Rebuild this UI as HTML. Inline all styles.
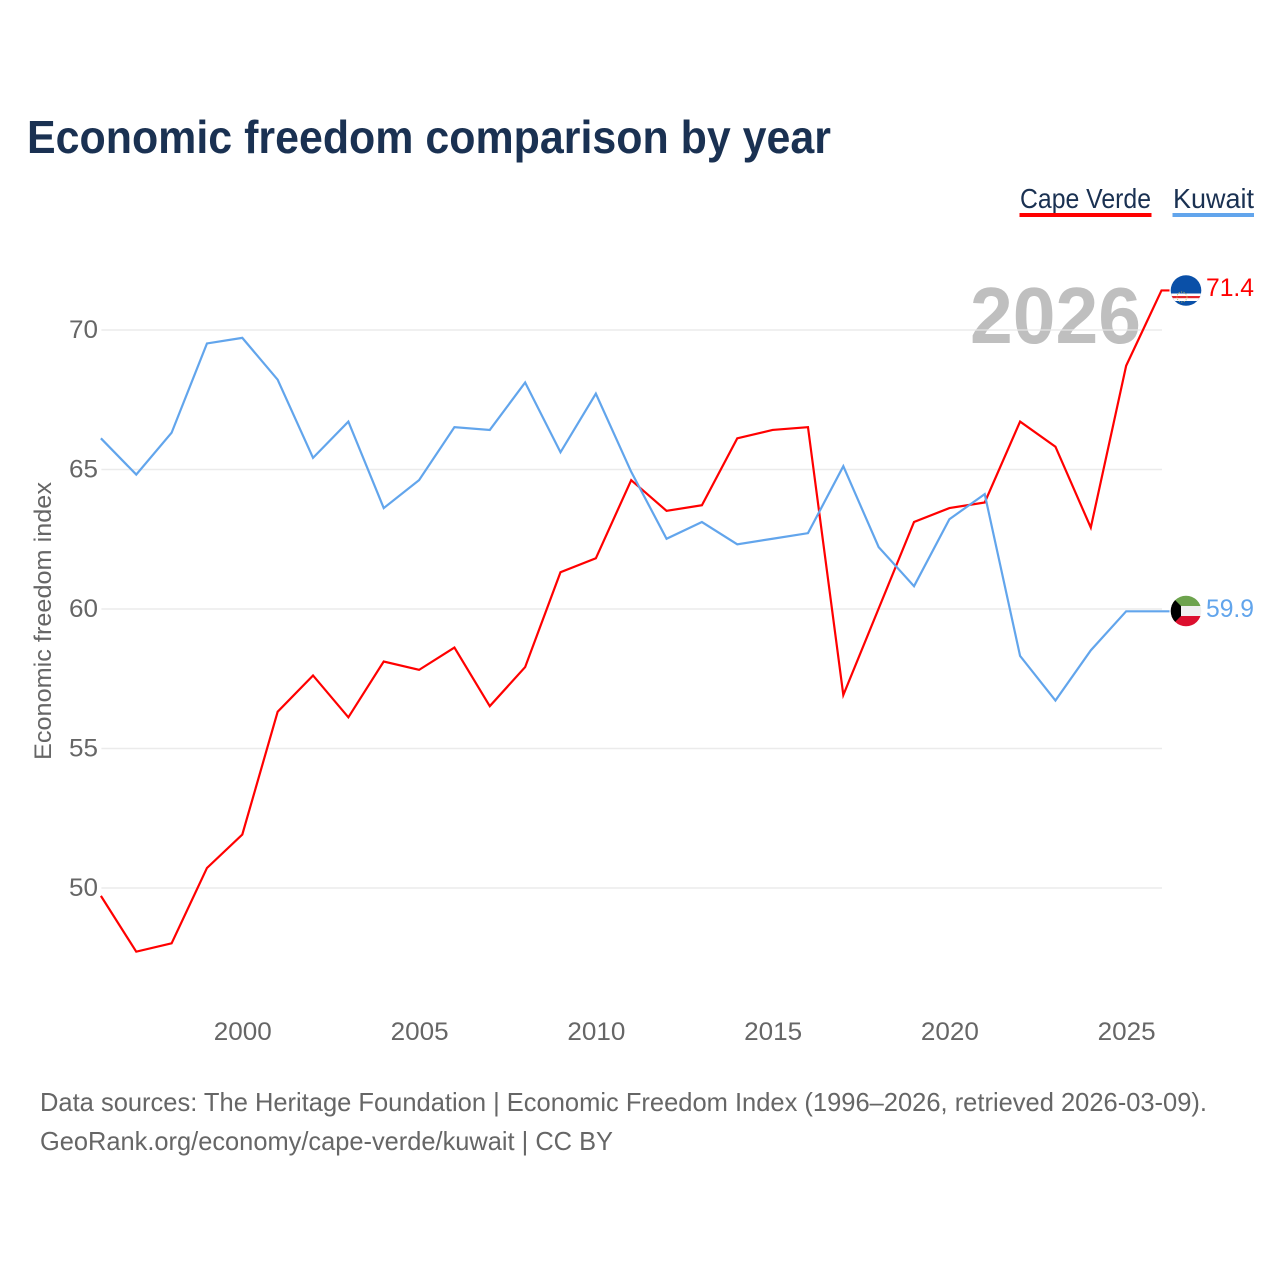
<!DOCTYPE html>
<html lang="en">
<head>
<meta charset="utf-8">
<title>Economic freedom comparison by year</title>
<style>
html,body{margin:0;padding:0;background:#fff;}
svg{display:block;}
text{font-family:"Liberation Sans",sans-serif;}
</style>
</head>
<body>
<svg id="chart" xmlns="http://www.w3.org/2000/svg" width="1280" height="1280" viewBox="0 0 1280 1280">
  <defs>
    <clipPath id="cv-clip"><circle cx="1186" cy="290.5" r="15.3"></circle></clipPath>
    <clipPath id="kw-clip"><circle cx="1186" cy="611" r="15.3"></circle></clipPath>
  </defs>
  <rect width="1280" height="1280" fill="#ffffff"></rect>
  <text x="27" y="153" font-size="46" font-weight="700" fill="#1a3152" textLength="804" lengthAdjust="spacingAndGlyphs">Economic freedom comparison by year</text>

  <text x="1020" y="208" font-size="28" fill="#1a3152" textLength="131" lengthAdjust="spacingAndGlyphs">Cape Verde</text>
  <rect x="1019.5" y="213" width="132" height="4" fill="#ff0000"></rect>
  <text x="1173" y="208" font-size="28" fill="#1a3152" textLength="81" lengthAdjust="spacingAndGlyphs">Kuwait</text>
  <rect x="1172.5" y="213" width="81.5" height="4" fill="#62a5ec"></rect>

  <text x="970" y="343" font-size="80" font-weight="700" fill="#bfbfbf" textLength="171" lengthAdjust="spacingAndGlyphs">2026</text>

  <g id="grid"></g>
  <g id="y-ticks"></g>
  <g id="x-ticks"></g>

  <text transform="translate(51,621) rotate(-90)" text-anchor="middle" font-size="24" fill="#666666" textLength="278" lengthAdjust="spacingAndGlyphs">Economic freedom index</text>

  <g id="series" transform="translate(-0.5,-0.5)"></g>

  <g id="flag-cape-verde" clip-path="url(#cv-clip)">
    <rect x="1170" y="275" width="32" height="32" fill="#0a50a8"></rect>
    <rect x="1170" y="293.5" width="32" height="7.5" fill="#ffffff"></rect>
    <rect x="1170" y="296" width="32" height="2.2" fill="#e2262c"></rect>
    <circle cx="1182" cy="297" r="5" fill="none" stroke="#c9b95a" stroke-width="1" stroke-dasharray="1 1.5"></circle>
  </g>
  <g id="flag-kuwait" clip-path="url(#kw-clip)">
    <rect x="1170" y="595" width="32" height="11" fill="#6da34d"></rect>
    <rect x="1170" y="606" width="32" height="10" fill="#f0f0f0"></rect>
    <rect x="1170" y="616" width="32" height="11" fill="#dc0f2e"></rect>
    <polygon points="1170,595 1181,606 1181,616 1170,627" fill="#000000"></polygon>
  </g>

  <text id="value-cape-verde" x="1206" y="296" font-size="25" fill="#ff0000" textLength="48" lengthAdjust="spacingAndGlyphs"></text>
  <text id="value-kuwait" x="1206" y="617" font-size="25" fill="#62a5ec" textLength="48" lengthAdjust="spacingAndGlyphs"></text>

  <text x="40" y="1111" font-size="26" fill="#666666" textLength="1167" lengthAdjust="spacingAndGlyphs">Data sources: The Heritage Foundation | Economic Freedom Index (1996–2026, retrieved 2026-03-09).</text>
  <text x="40" y="1150" font-size="26" fill="#666666" textLength="573" lengthAdjust="spacingAndGlyphs">GeoRank.org/economy/cape-verde/kuwait | CC BY</text>
</svg>
<script>
const years = [1996,1997,1998,1999,2000,2001,2002,2003,2004,2005,2006,2007,2008,2009,2010,2011,2012,2013,2014,2015,2016,2017,2018,2019,2020,2021,2022,2023,2024,2025,2026];
const capeVerdeValues = [49.7,47.7,48.0,50.7,51.9,56.3,57.6,56.1,58.1,57.8,58.6,56.5,57.9,61.3,61.8,64.6,63.5,63.7,66.1,66.4,66.5,56.9,60.0,63.1,63.6,63.8,66.7,65.8,62.9,68.7,71.4];
const kuwaitValues = [66.1,64.8,66.3,69.5,69.7,68.2,65.4,66.7,63.6,64.6,66.5,66.4,68.1,65.6,67.7,64.9,62.5,63.1,62.3,62.5,62.7,65.1,62.2,60.8,63.2,64.1,58.3,56.7,58.5,59.9,59.9];
const yTickValues = [50,55,60,65,70];
const xTickValues = [2000,2005,2010,2015,2020,2025];

const SVG_NS = 'http://www.w3.org/2000/svg';
function xScale(year) { return 101.4 + (year - 1996) * (1162 - 101.4) / 30; }
function yScale(value) { return 888 - (value - 50) * (888 - 330) / 20; }

const gridGroup = document.getElementById('grid');
const yTickGroup = document.getElementById('y-ticks');
yTickValues.forEach(function (tick) {
  const line = document.createElementNS(SVG_NS, 'line');
  
  
  line.setAttribute('x1', xScale(1996));
  line.setAttribute('x2', xScale(2026));
  line.setAttribute('y1', yScale(tick));
  line.setAttribute('y2', yScale(tick));
  line.setAttribute('stroke', '#e6e6e6');
  line.setAttribute('stroke-opacity', '0.8');
  line.setAttribute('stroke-width', '1.6');
  gridGroup.appendChild(line);

  const label = document.createElementNS(SVG_NS, 'text');
  
  
  label.setAttribute('x', 69);
  label.setAttribute('y', yScale(tick) + 8);
  label.setAttribute('font-size', '25');
  label.setAttribute('fill', '#666666');
  label.setAttribute('textLength', '29');
  label.setAttribute('lengthAdjust', 'spacingAndGlyphs');
  label.textContent = tick;
  yTickGroup.appendChild(label);
});

const xTickGroup = document.getElementById('x-ticks');
xTickValues.forEach(function (tick) {
  const label = document.createElementNS(SVG_NS, 'text');
  
  
  label.setAttribute('x', xScale(tick) - 29);
  label.setAttribute('y', 1040);
  label.setAttribute('font-size', '25');
  label.setAttribute('fill', '#666666');
  label.setAttribute('textLength', '58');
  label.setAttribute('lengthAdjust', 'spacingAndGlyphs');
  label.textContent = tick;
  xTickGroup.appendChild(label);
});

function buildPoints(values) {
  const pts = values.map(function (v, i) { return xScale(years[i]).toFixed(2) + ',' + yScale(v).toFixed(2); });
  pts.push((xScale(years[years.length - 1]) + 8).toFixed(2) + ',' + yScale(values[values.length - 1]).toFixed(2));
  return pts.join(' ');
}

const seriesGroup = document.getElementById('series');

const kuwaitLine = document.createElementNS(SVG_NS, 'polyline');


kuwaitLine.setAttribute('points', buildPoints(kuwaitValues));
kuwaitLine.setAttribute('fill', 'none');
kuwaitLine.setAttribute('stroke', '#62a5ec');
kuwaitLine.setAttribute('stroke-width', '2.2');
kuwaitLine.setAttribute('stroke-linejoin', 'miter');

const capeVerdeLine = document.createElementNS(SVG_NS, 'polyline');


capeVerdeLine.setAttribute('points', buildPoints(capeVerdeValues));
capeVerdeLine.setAttribute('fill', 'none');
capeVerdeLine.setAttribute('stroke', '#ff0000');
capeVerdeLine.setAttribute('stroke-width', '2.2');
capeVerdeLine.setAttribute('stroke-linejoin', 'miter');

seriesGroup.appendChild(capeVerdeLine);
seriesGroup.appendChild(kuwaitLine);

document.getElementById('value-cape-verde').textContent = capeVerdeValues[capeVerdeValues.length - 1].toFixed(1);
document.getElementById('value-kuwait').textContent = kuwaitValues[kuwaitValues.length - 1].toFixed(1);
</script>
</body>
</html>
